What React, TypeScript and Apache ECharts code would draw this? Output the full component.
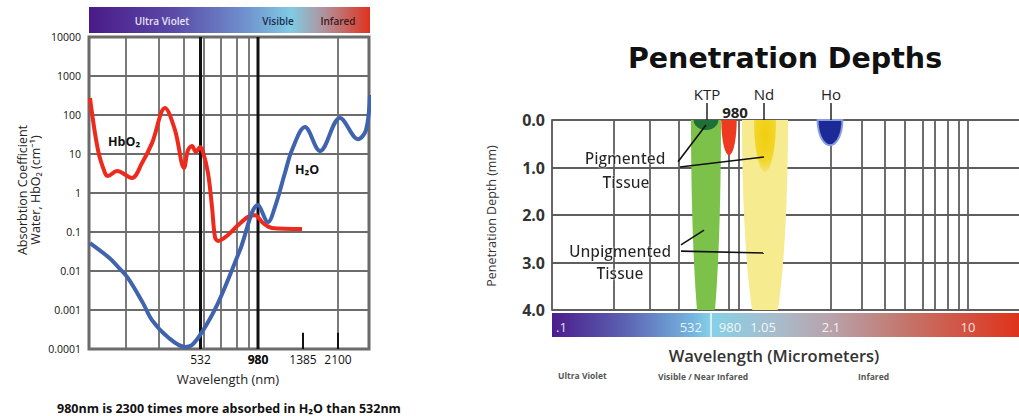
import React, { useEffect, useRef } from "react";
import * as echarts from "echarts";

// ---------- Left chart: absorption coefficient (log scale) ----------
// x is a position along the (non-linear) wavelength scale, 0..280
const absGridPos = [37, 70, 95, 115, 132, 148, 160, 249];
const laserLinePos = [111.5, 169]; // 532 nm, 980 nm
const absTickLabels = ["532", "980", "1385", "2100"];
const absTickPos = [111.5, 169, 214, 249];
const absShortTickPos = [214, 249];

const hbo2X = [1, 9, 16, 19, 28, 43, 53, 63, 76, 86, 95, 99, 103, 107, 111, 114, 119, 123, 126, 129, 139, 149, 161, 166, 174, 183, 213];
const hbo2Y = [273, 12.6, 3.26, 2.73, 3.66, 2.43, 5.87, 19, 151, 41, 4.4, 12.7, 16, 11.2, 15.1, 11.2, 3.26, 0.44, 0.074, 0.059, 0.084, 0.15, 0.26, 0.27, 0.17, 0.127, 0.119];

const h2oX = [1, 21, 29, 39, 54, 63, 79, 96, 103, 113, 129, 151, 169, 179, 186, 196, 203, 216, 231, 251, 269, 277, 281];
const h2oY = [0.052, 0.021, 0.0127, 0.0066, 0.0015, 0.00055, 0.0002, 0.000113, 0.000127, 0.00027, 0.0015, 0.0345, 0.49, 0.18, 0.44, 3.3, 12.7, 49, 12, 84, 24, 41, 326];

const curveLabels = ["HbO₂", "H₂O"];
const curveLabelX = [19, 206];
const curveLabelY = [20.4, 4.1];

// ---------- Right chart: penetration depths ----------
// x is a position along the wavelength band scale, 0..467
const penGridPos = [62, 98, 127, 177, 187, 279, 310, 333, 353, 371, 383, 396, 407, 416];
const laserNames = ["KTP", "Nd", "Ho"];
const laserPos = [155, 212, 279];
const plumeNames = ["KTP", "980", "Nd", "Ho"];
const plumeX = [154, 177, 213, 278];
const pigmentedDepth = [0.21, 0.74, 1.09, 0.53];
const unpigmentedNames = ["KTP", "Nd"];
const unpigmentedX = [154, 213];
const unpigmentedDepth = [5.0, 4.85];
const bandLabels = [".1", "532", "980", "1.05", "2.1", "10"];
const bandLabelPos = [4, 150, 178, 211, 279, 416];

const annText = ["Pigmented", "Tissue", "Unpigmented", "Tissue"];
const annX = [73, 74, 68, 68];
const annY = [0.8, 1.31, 2.76, 3.22];
const annLines = [
  [126, 0.88, 154, 0.105],
  [128, 0.99, 212, 0.78],
  [129, 2.63, 152, 2.32],
  [129, 2.76, 212, 2.8],
];

// ---------- layout / style ----------
const FONT = "'Open Sans', 'Noto Sans', sans-serif";
const LG = { left: 89, top: 37, width: 280, height: 312 };
const RG = { left: 552, top: 120, width: 467, height: 190 };
const pigWidth = [12.4, 7.7, 11, 12.4];
const pigColor = ["#1f6f36", "#ef3a22", "#f2d21e", "#1c2a98"];
const unpigWidth = [15, 23];
const unpigColor = ["#7cc24a", "#f6eb8e"];

function vLines(gi: number, pos: number[], y0: number, y1: number, style: any, z: number) {
  return {
    type: "custom", xAxisIndex: gi, yAxisIndex: gi, z, silent: true,
    data: pos.map((p) => [p, y0]),
    renderItem: (params: any, api: any) => {
      const x = api.value(0);
      const a = api.coord([x, y0]);
      const b = api.coord([x, y1]);
      return { type: "line", shape: { x1: a[0], y1: a[1], x2: b[0], y2: b[1] }, style };
    },
  };
}

function texts(gi: number, xs: number[], ys: number[], labels: string[], style: any, z: number, dy = 0, aligns?: string[]) {
  return {
    type: "custom", xAxisIndex: gi, yAxisIndex: gi, z, silent: true,
    data: xs.map((x, i) => [x, ys[i]]),
    renderItem: (params: any, api: any) => {
      const p = api.coord([api.value(0), api.value(1)]);
      const i = params.dataIndex;
      return {
        type: "text", x: p[0], y: p[1] + dy,
        style: { text: labels[i], align: aligns ? aligns[i] : "center", verticalAlign: "middle", fontFamily: FONT, ...style },
      };
    },
  };
}

function plumes(xs: number[], depths: number[], widths: number[], colors: any[], z: number, stroke?: (i: number) => any) {
  return {
    type: "custom", xAxisIndex: 1, yAxisIndex: 1, z, silent: true,
    data: xs.map((x, i) => [x, depths[i]]),
    renderItem: (params: any, api: any) => {
      const i = params.dataIndex;
      const c = api.coord([api.value(0), 0]);
      const ry = Math.abs(api.coord([api.value(0), api.value(1)])[1] - c[1]);
      const bottom = api.coord([0, 4])[1];
      const rx = widths[i];
      const pts: number[][] = [];
      for (let k = 0; k <= 48; k++) {
        const t = (Math.PI * k) / 48;
        pts.push([c[0] + rx * Math.cos(t), Math.min(c[1] + ry * Math.sin(t), bottom)]);
      }
      const st: any = { fill: colors[i] };
      if (stroke) Object.assign(st, stroke(i));
      return { type: "polygon", shape: { points: pts }, style: st };
    },
  };
}

export default function App() {
  const ref = useRef<HTMLDivElement>(null);
  useEffect(() => {
    if (!ref.current) return;
    const chart = echarts.init(ref.current, undefined, { renderer: "svg" });
    const logFmt = (v: number) => {
      const e = Math.round(Math.log10(v));
      return e >= 0 ? String(Math.pow(10, e)) : "0." + "0".repeat(-e - 1) + "1";
    };
    const leftBar = new echarts.graphic.LinearGradient(0, 0, 1, 0, [
      { offset: 0, color: "#4a1a88" },
      { offset: 0.3, color: "#5a4aa8" },
      { offset: 0.55, color: "#6f8fcc" },
      { offset: 0.72, color: "#80cbe3" },
      { offset: 0.84, color: "#b2909a" },
      { offset: 1, color: "#e0321c" },
    ]);
    const rightBar = new echarts.graphic.LinearGradient(0, 0, 1, 0, [
      { offset: 0, color: "#4b1c8c" },
      { offset: 0.15, color: "#5b5fb0" },
      { offset: 0.3, color: "#74b4e0" },
      { offset: 0.34, color: "#86d0e6" },
      { offset: 0.48, color: "#a8bccc" },
      { offset: 0.6, color: "#b8a2aa" },
      { offset: 0.76, color: "#c4746a" },
      { offset: 1, color: "#e0321a" },
    ]);
    const nd = new echarts.graphic.RadialGradient(0.5, 0.3, 0.7, [
      { offset: 0, color: "#f0cd10" },
      { offset: 0.7, color: "#f3d62a" },
      { offset: 1, color: "#f4e270" },
    ]);
    const pigFill = [pigColor[0], pigColor[1], nd, pigColor[3]];
    const lineStyleGrid = { stroke: "#6c6c6c", lineWidth: 1.8 };
    const option: any = {
      animation: false,
      textStyle: { fontFamily: FONT },
      grid: [
        { left: LG.left, top: LG.top, width: LG.width, height: LG.height, show: true, borderColor: "#6a6a6a", borderWidth: 3, backgroundColor: "transparent" },
        { left: RG.left, top: RG.top, width: RG.width, height: RG.height, show: false },
      ],
      xAxis: [
        { gridIndex: 0, type: "value", min: 0, max: LG.width, show: false },
        { gridIndex: 1, type: "value", min: 0, max: RG.width, show: false },
      ],
      yAxis: [
        {
          gridIndex: 0, type: "log", logBase: 10, min: 0.0001, max: 10000,
          axisLine: { show: false }, axisTick: { show: false },
          splitLine: { show: true, lineStyle: { color: "#6c6c6c", width: 1.8 } },
          axisLabel: { formatter: logFmt, fontSize: 10.5, fontWeight: 500, color: "#111", margin: 8, fontFamily: FONT },
        },
        {
          gridIndex: 1, type: "value", inverse: true, min: 0, max: 4, interval: 1,
          axisLine: { show: true, lineStyle: { color: "#555", width: 1.8 } }, axisTick: { show: false },
          splitLine: { show: true, lineStyle: { color: "#5e5e5e", width: 1.8 } },
          axisLabel: { formatter: (v: number) => v.toFixed(1), fontSize: 16, fontWeight: "bold", color: "#333", margin: 7, fontFamily: FONT },
        },
      ],
      series: [
        vLines(0, absGridPos, 0.0001, 10000, lineStyleGrid, 1),
        vLines(0, laserLinePos, 0.0001, 10000, { stroke: "#111", lineWidth: 3 }, 2),
        vLines(0, absShortTickPos, 0.0001, 0.00026, { stroke: "#111", lineWidth: 2 }, 2),
        {
          type: "line", name: "HbO2", xAxisIndex: 0, yAxisIndex: 0, z: 3,
          data: hbo2X.map((x, i) => [x, hbo2Y[i]]), smooth: 0.35, showSymbol: false,
          lineStyle: { color: "#ee2a1c", width: 4 },
        },
        {
          type: "line", name: "H2O", xAxisIndex: 0, yAxisIndex: 0, z: 3,
          data: h2oX.map((x, i) => [x, h2oY[i]]), smooth: 0.35, showSymbol: false,
          lineStyle: { color: "#3f64ad", width: 4 },
        },
        texts(0, curveLabelX, curveLabelY, curveLabels, { fontSize: 12.5, fontWeight: "bold", fill: "#111" }, 4, 0, ["left", "left"]),
        texts(0, absTickPos, absTickPos.map(() => 0.0001), absTickLabels, { fontSize: 12, fill: "#111" }, 4, 10),
        texts(0, [169], [0.0001], ["980"], { fontSize: 12, fontWeight: "bold", fill: "#111" }, 5, 10),
        // right chart
        vLines(1, penGridPos, 0, 4, { stroke: "#5e5e5e", lineWidth: 1.8 }, 1),
        plumes(unpigmentedX, unpigmentedDepth, unpigWidth, unpigColor, 2),
        plumes(plumeX, pigmentedDepth, pigWidth, pigFill, 3, (i) => (plumeNames[i] === "Ho" ? { stroke: "#8a9ede", lineWidth: 2 } : {})),
        {
          type: "custom", xAxisIndex: 1, yAxisIndex: 1, z: 4, silent: true,
          data: laserPos.map((p) => [p, 0]),
          renderItem: (params: any, api: any) => {
            const c = api.coord([api.value(0), 0]);
            return {
              type: "group",
              children: [
                { type: "line", shape: { x1: c[0], y1: c[1] - 17, x2: c[0], y2: c[1] }, style: { stroke: "#222", lineWidth: 1.5 } },
                { type: "text", x: c[0], y: c[1] - 26, style: { text: laserNames[params.dataIndex], align: "center", verticalAlign: "middle", fontFamily: FONT, fontSize: 15, fontWeight: 500, fill: "#222" } },
              ],
            };
          },
        },
        texts(1, [183], [0], ["980"], { fontSize: 15, fontWeight: "bold", fill: "#222" }, 4, -8),
        {
          type: "custom", xAxisIndex: 1, yAxisIndex: 1, z: 5, silent: true,
          data: annLines.map((l) => [l[0], l[1]]),
          renderItem: (params: any, api: any) => {
            const l = annLines[params.dataIndex];
            const a = api.coord([l[0], l[1]]);
            const b = api.coord([l[2], l[3]]);
            return { type: "line", shape: { x1: a[0], y1: a[1], x2: b[0], y2: b[1] }, style: { stroke: "#111", lineWidth: 1.6 } };
          },
        },
        texts(1, annX, annY, annText, { fontSize: 15.5, fontWeight: 600, fill: "#262626", textShadowColor: "#fff", textShadowBlur: 2 }, 6),
        texts(1, bandLabelPos, bandLabelPos.map(() => 4), bandLabels, { fontSize: 13, fill: "rgba(255,255,255,0.88)" }, 8, 17, ["left", "right", "center", "center", "center", "center"]),
      ],
      graphic: [
        // left colour band
        { type: "rect", left: LG.left, top: 7, shape: { x: 0, y: 0, width: LG.width + 1, height: 26 }, style: { fill: leftBar }, z: 10 },
        { type: "text", x: 162, y: 21, style: { text: "Ultra Violet", align: "center", verticalAlign: "middle", fontFamily: FONT, fontSize: 10, fontWeight: 600, fill: "#e8e4f4" }, z: 11 },
        { type: "text", x: 278, y: 21, style: { text: "Visible", align: "center", verticalAlign: "middle", fontFamily: FONT, fontSize: 10, fontWeight: 600, fill: "#1d2b4e" }, z: 11 },
        { type: "text", x: 338, y: 21, style: { text: "Infared", align: "center", verticalAlign: "middle", fontFamily: FONT, fontSize: 10, fontWeight: 600, fill: "#3a1a1a" }, z: 11 },
        // left axis titles
        { type: "text", x: 22, y: 190, rotation: Math.PI / 2, style: { text: "Absorbtion Coefficient", align: "center", verticalAlign: "middle", fontFamily: FONT, fontSize: 12.5, fill: "#222" }, z: 11 },
        { type: "text", x: 35, y: 190, rotation: Math.PI / 2, style: { text: "Water, HbO₂ (cm⁻¹)", align: "center", verticalAlign: "middle", fontFamily: FONT, fontSize: 12.5, fill: "#222" }, z: 11 },
        { type: "text", x: 228, y: 379, style: { text: "Wavelength (nm)", align: "center", verticalAlign: "middle", fontFamily: FONT, fontSize: 13, fill: "#222" }, z: 11 },
        { type: "text", x: 57, y: 408, style: { text: "980nm is 2300 times more absorbed in H₂O than 532nm", align: "left", verticalAlign: "middle", fontFamily: FONT, fontSize: 12.5, fontWeight: "bold", fill: "#111" }, z: 11 },
        // right chart
        { type: "text", x: 785, y: 58, style: { text: "Penetration Depths", align: "center", verticalAlign: "middle", fontFamily: "'DejaVu Sans', sans-serif", fontSize: 28.5, fontWeight: "bold", fill: "#111" }, z: 11 },
        { type: "rect", left: RG.left, top: 313, shape: { x: 0, y: 0, width: RG.width, height: 24 }, style: { fill: rightBar }, z: 7 },
        { type: "line", shape: { x1: 711, y1: 313, x2: 711, y2: 337 }, style: { stroke: "rgba(255,255,255,0.9)", lineWidth: 1.5 }, z: 8 },
        { type: "text", x: 491, y: 216, rotation: Math.PI / 2, style: { text: "Penetration Depth (mm)", align: "center", verticalAlign: "middle", fontFamily: FONT, fontSize: 12.5, fill: "#333" }, z: 11 },
        { type: "text", x: 774, y: 355, style: { text: "Wavelength (Micrometers)", align: "center", verticalAlign: "middle", fontFamily: FONT, fontSize: 16.5, fontWeight: 600, fill: "#333" }, z: 11 },
        { type: "text", x: 558, y: 375, style: { text: "Ultra Violet", align: "left", verticalAlign: "middle", fontFamily: FONT, fontSize: 8.5, fontWeight: "bold", fill: "#555" }, z: 11 },
        { type: "text", x: 658, y: 376, style: { text: "Visible / Near Infared", align: "left", verticalAlign: "middle", fontFamily: FONT, fontSize: 8.5, fontWeight: "bold", fill: "#555" }, z: 11 },
        { type: "text", x: 858, y: 376, style: { text: "Infared", align: "left", verticalAlign: "middle", fontFamily: FONT, fontSize: 8.5, fontWeight: "bold", fill: "#555" }, z: 11 },
      ],
    };
    chart.setOption(option);
    return () => chart.dispose();
  }, []);
  return <div ref={ref} style={{ position: "fixed", left: 0, top: 0, width: 1019, height: 416, background: "#fff" }} />;
}
